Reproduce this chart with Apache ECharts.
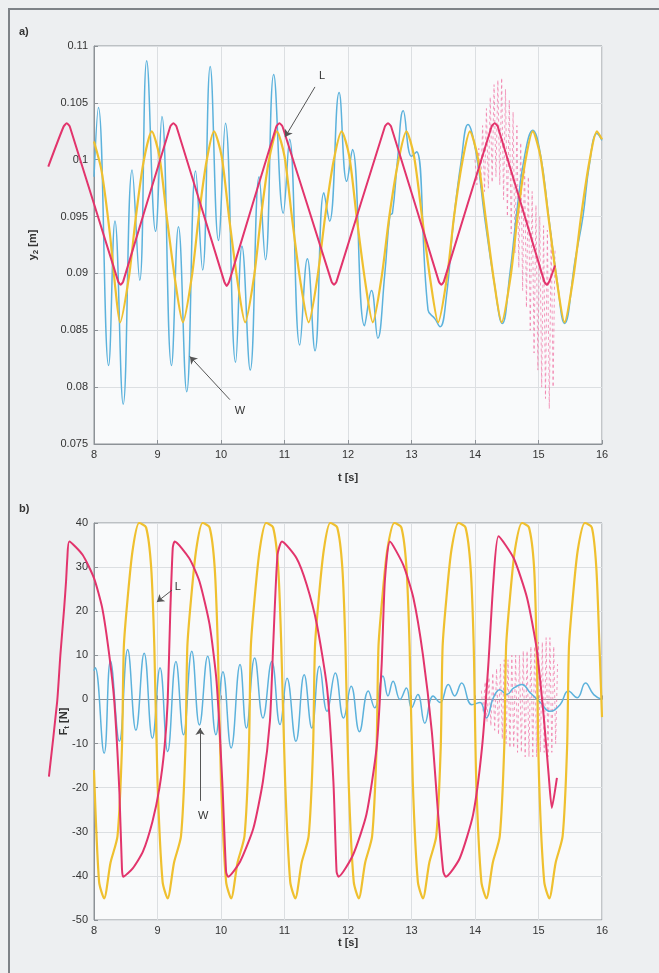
<!DOCTYPE html>
<html>
<head>
<meta charset="utf-8">
<script src="https://cdn.jsdelivr.net/npm/echarts@6/dist/echarts.min.js"></script>
<style>
html,body{margin:0;padding:0;background:#edeff1;}
#c{width:659px;height:973px;}
</style>
</head>
<body>
<div id="c"></div>
<script>
// ---- axis ranges ----
const tRange = [8, 16];
const tRangeWide = [7, 16];   // the R curves start before t = 8 s
const yTopRange = [0.075, 0.11];
const fRange = [-50, 40];

// ---- panel a) displacement y2 [m] vs t [s] ----
const yL = [[8.00,0.1016],[8.12,0.0990],[8.25,0.0935],[8.34,0.0885],[8.41,0.0857],
  [8.55,0.0897],[8.66,0.0950],[8.78,0.0998],[8.91,0.1025],
  [9.03,0.1003],[9.15,0.0948],[9.28,0.0893],[9.40,0.0857],
  [9.54,0.0897],[9.65,0.0950],[9.77,0.0998],[9.89,0.1025],
  [10.01,0.1003],[10.13,0.0948],[10.26,0.0893],[10.38,0.0857],
  [10.52,0.0897],[10.63,0.0950],[10.75,0.0998],[10.88,0.1025],
  [11.00,0.1003],[11.12,0.0948],[11.25,0.0893],[11.38,0.0857],
  [11.52,0.0897],[11.64,0.0950],[11.77,0.0998],[11.90,0.1025],
  [12.02,0.1003],[12.14,0.0948],[12.27,0.0893],[12.39,0.0857],
  [12.53,0.0897],[12.65,0.0950],[12.79,0.0998],[12.92,0.1025],
  [13.04,0.1003],[13.17,0.0948],[13.30,0.0893],[13.42,0.0857],
  [13.56,0.0897],[13.67,0.0950],[13.80,0.0998],[13.92,0.1025],
  [14.04,0.1003],[14.17,0.0948],[14.30,0.0893],[14.42,0.0857],
  [14.56,0.0897],[14.67,0.0950],[14.79,0.0998],[14.91,0.1025],
  [15.03,0.1003],[15.16,0.0948],[15.29,0.0893],[15.41,0.0857],
  [15.55,0.0897],[15.67,0.0950],[15.80,0.0998],[15.92,0.1025],[16.00,0.1018]];

const yW = [[8.00,0.0985],[8.07,0.1046],[8.23,0.0819],[8.33,0.0946],[8.46,0.0785],[8.60,0.0991],
  [8.72,0.0894],[8.83,0.1087],[8.97,0.0937],[9.07,0.1038],[9.22,0.0819],[9.33,0.0941],
  [9.46,0.0796],[9.60,0.0990],[9.71,0.0903],[9.83,0.1082],[9.96,0.0929],[10.07,0.1032],
  [10.23,0.0822],[10.33,0.0924],[10.46,0.0815],[10.60,0.0985],[10.70,0.0912],[10.83,0.1075],
  [10.98,0.0953],[11.08,0.1018],[11.24,0.0837],[11.36,0.0913],[11.48,0.0832],[11.62,0.0971],
  [11.71,0.0946],[11.86,0.1059],[11.98,0.0981],[12.07,0.1009],[12.26,0.0854],[12.37,0.0885],
  [12.47,0.0843],[12.58,0.0900],[12.66,0.0951],[12.70,0.0953],[12.78,0.1000],[12.87,0.1043],
  [13.00,0.1003],[13.08,0.1007],[13.26,0.0868],[13.37,0.0860],[13.45,0.0853],
  [13.55,0.0880],[13.66,0.0945],[13.78,0.0998],[13.89,0.1031],[14.02,0.1005],[14.15,0.0950],
  [14.30,0.0893],[14.43,0.0856],[14.55,0.0900],[14.66,0.0955],[14.78,0.1003],[14.91,0.1026],
  [15.03,0.1005],[15.16,0.0950],[15.29,0.0895],[15.41,0.0856],[15.58,0.0913],[15.70,0.0950],
  [15.80,0.0995],[15.92,0.1023],[16.00,0.1017]];

const yR = [[7.28,0.0994],[7.52,0.1029],[7.57,0.1032],[7.62,0.1029],[8.38,0.0893],[8.42,0.0890],[8.46,0.0893],
  [9.20,0.1029],[9.25,0.1032],[9.30,0.1029],[10.05,0.0893],[10.09,0.0889],[10.13,0.0893],
  [10.87,0.1029],[10.92,0.1032],[10.97,0.1029],[11.74,0.0893],[11.78,0.0890],[11.82,0.0893],
  [12.58,0.1029],[12.63,0.1032],[12.68,0.1029],[13.43,0.0893],[13.47,0.0890],[13.51,0.0893],
  [14.26,0.1029],[14.31,0.1032],[14.36,0.1029],[15.09,0.0893],[15.13,0.0890],[15.17,0.0893],[15.26,0.0907]];

const yRu = [[14.00,0.1000],[14.03,0.0978],[14.06,0.1010],[14.09,0.0975],[14.12,0.1030],[14.15,0.0972],
  [14.18,0.1045],[14.21,0.0975],[14.24,0.1055],[14.27,0.0980],[14.30,0.1066],[14.33,0.0985],
  [14.36,0.1070],[14.39,0.0978],[14.42,0.1072],[14.45,0.0965],[14.48,0.1062],[14.51,0.0950],
  [14.54,0.1052],[14.57,0.0935],[14.60,0.1042],[14.63,0.0918],[14.66,0.1030],[14.69,0.0905],
  [14.72,0.1015],[14.75,0.0885],[14.78,0.1000],[14.81,0.0870],[14.84,0.0985],[14.87,0.0850],
  [14.90,0.0972],[14.93,0.0830],[14.96,0.0960],[14.99,0.0815],[15.02,0.0950],[15.05,0.0800],
  [15.08,0.0942],[15.11,0.0790],[15.14,0.0938],[15.17,0.0781],[15.20,0.0935],[15.23,0.0800],[15.26,0.0920]];

// ---- panel b) force F_t [N] vs t [s] ----
const fL = [[8.00,-16],[8.08,-41.3],[8.16,-45.1],
  [8.26,-37],[8.37,-31],[8.44,-11],[8.47,12],[8.53,23],[8.61,34],[8.71,40],[8.82,39],[8.90,30],[8.95,12],[9.00,-18.6],[9.08,-41.3],[9.16,-45.1],
  [9.26,-37],[9.37,-31],[9.44,-11],[9.47,12],[9.53,23],[9.61,34],[9.71,40],[9.82,39],[9.90,30],[9.95,12],[10.00,-18.6],[10.08,-41.3],[10.16,-45.1],
  [10.26,-37],[10.37,-31],[10.44,-11],[10.47,12],[10.53,23],[10.61,34],[10.71,40],[10.82,39],[10.90,30],[10.95,12],[11.01,-18.6],[11.09,-41.3],[11.17,-45.1],
  [11.27,-37],[11.38,-31],[11.45,-11],[11.48,12],[11.54,23],[11.62,34],[11.72,40],[11.83,39],[11.91,30],[11.96,12],[12.01,-18.6],[12.09,-41.3],[12.17,-45.1],
  [12.27,-37],[12.38,-31],[12.45,-11],[12.48,12],[12.54,23],[12.62,34],[12.73,40],[12.84,39],[12.92,30],[12.97,12],[13.02,-18.6],[13.10,-41.3],[13.18,-45.1],
  [13.28,-37],[13.39,-31],[13.46,-11],[13.49,12],[13.55,23],[13.63,34],[13.74,40],[13.85,39],[13.93,30],[13.98,12],[14.02,-18.6],[14.10,-41.3],[14.18,-45.1],
  [14.28,-37],[14.39,-31],[14.46,-11],[14.49,12],[14.55,23],[14.63,34],[14.74,40],[14.85,39],[14.93,30],[14.97,12],[15.01,-18.6],[15.09,-41.3],[15.17,-45.1],
  [15.27,-37],[15.38,-31],[15.45,-11],[15.48,12],[15.54,23],[15.62,34],[15.73,40],[15.84,39],[15.91,30],[15.96,12],[16.00,-4]];

const fW = [[8.00,6.5],[8.02,7.2],[8.16,-12.2],[8.26,8.7],[8.40,-9.5],[8.53,11.3],[8.66,-7],[8.79,10.5],
  [8.92,-8.8],[9.04,7.2],[9.16,-11.8],[9.29,8.6],[9.41,-8],[9.54,10.9],[9.66,-5.8],[9.79,9.8],
  [9.92,-8],[10.03,6.3],[10.16,-11],[10.30,7.9],[10.40,-6.5],[10.53,9.4],[10.66,-4.2],[10.80,8.6],
  [10.93,-5.7],[11.04,4.8],[11.18,-9.5],[11.31,5.6],[11.43,-6.5],[11.55,7.5],[11.67,-2.7],[11.80,6],
  [11.93,-4.2],[12.05,3],[12.18,-7.3],[12.32,1.9],[12.42,-1.9],[12.55,5.3],[12.63,0.8],[12.71,4.1],
  [12.82,0],[12.92,2.6],[13.00,-1.9],[13.10,1.1],[13.21,-5.4],[13.34,0.8],[13.45,-0.7],[13.58,3.4],
  [13.68,0.8],[13.79,3.7],[13.95,-1.2],[14.08,-0.7],[14.18,-4.2],[14.29,0.4],[14.39,2.2],[14.50,1.1],
  [14.61,2.6],[14.74,3.4],[14.87,1.5],[15.03,-0.7],[15.18,-2.7],[15.34,-1.2],[15.47,1.9],[15.61,0.4],
  [15.74,3.7],[15.87,1.1],[16.00,0]];

const fR = [[7.29,-17.5],[7.42,-0.5],[7.47,10],[7.53,20.7],[7.56,26.8],[7.58,32],[7.61,35.8],[7.82,32.8],[8.00,27.5],[8.13,20.7],
  [8.24,10.1],[8.32,-0.5],[8.40,-21],[8.44,-38.3],[8.46,-40.2],[8.61,-38.3],[8.77,-34.5],[8.92,-27.7],
  [9.03,-20.1],[9.11,-11],[9.16,-0.5],[9.20,19.2],[9.24,34.3],[9.27,35.8],[9.50,32],[9.66,26.8],
  [9.82,17],[9.93,4.1],[10.02,-18.6],[10.08,-39],[10.11,-40.2],[10.30,-36.8],[10.51,-29.2],[10.66,-18.6],
  [10.77,-5],[10.82,11.6],[10.89,32.8],[10.96,35.8],[11.19,32],[11.35,26],[11.51,17],[11.67,2.6],
  [11.77,-18.6],[11.82,-39],[11.85,-40.2],[12.08,-35.2],[12.29,-26.1],[12.45,-11],[12.53,7.9],[12.58,26.8],
  [12.66,35.8],[12.87,30.5],[13.03,23],[13.18,10.1],[13.32,-7.3],[13.42,-26.1],[13.50,-39],[13.54,-40.2],
  [13.76,-36],[13.97,-26.1],[14.11,-11],[14.21,7.9],[14.29,26.8],[14.37,37],[14.61,32],[14.82,23],
  [14.97,11.6],[15.08,-3.5],[15.16,-17.1],[15.21,-24.6],[15.29,-17.8]];

const fRu = [[14.10,2],[14.13,-3],[14.16,4],[14.19,-5],[14.22,5],[14.25,-6],[14.28,6],[14.31,-7],
  [14.34,7],[14.37,-8],[14.40,8],[14.43,-9],[14.46,9],[14.49,-10],[14.52,9],[14.55,-11],[14.58,10],
  [14.61,-11],[14.64,10],[14.67,-12],[14.70,10],[14.73,-12],[14.76,11],[14.79,-13],[14.82,11],
  [14.85,-13],[14.88,12],[14.91,-13],[14.94,12],[14.97,-13],[15.00,13],[15.03,-12],[15.06,13],
  [15.09,-12],[15.12,14],[15.15,-13],[15.18,14],[15.21,-12],[15.24,12],[15.27,-10],[15.30,8]];

// ---- annotation arrows: tail, head, text position, text ----
const notesTop = [
  {from:[11.48,0.1064], to:[11.01,0.1020], at:[11.59,0.1074], text:'L'},
  {from:[10.14,0.0789], to:[9.51,0.0827], at:[10.30,0.0779], text:'W'}
];
const notesBottom = [
  {from:[9.23,24.8], to:[8.99,22.1], at:[9.32,25.6], text:'L'},
  {from:[9.67,-23.0], to:[9.67,-6.5], at:[9.72,-26.5], text:'W'}
];

const C_RED = '#e2346c', C_YEL = '#efc02f', C_BLUE = '#5cb2dc', C_PINK = '#f07aa8';
const AX = '#8d9297', GRIDC = '#dcdfe2', TXT = '#333';
const FONT = 'Liberation Sans, Arial, sans-serif';

// plot box geometry
const PL = 94, PR = 57, PW = 659 - PL - PR;
const pxPerSec = PW / (tRange[1] - tRange[0]);
const wideLeft = PL - pxPerSec * (tRange[0] - tRangeWide[0]);
const TOP_A = 46, H_A = 398, TOP_B = 523, H_B = 397;

function xAxisCfg(gi, gap) {
  return {
    gridIndex: gi, type: 'value', min: tRange[0], max: tRange[1], interval: 1,
    name: 't [s]', nameLocation: 'middle', nameGap: gap, nameMoveOverlap: false,
    nameTextStyle: {color: TXT, fontSize: 11, fontWeight: 'bold', fontFamily: FONT},
    axisLine: {show: true, lineStyle: {color: AX}},
    axisTick: {show: true, inside: true, length: 4, lineStyle: {color: AX}},
    axisLabel: {color: TXT, fontSize: 11, margin: 5, fontFamily: FONT},
    splitLine: {show: true, lineStyle: {color: GRIDC, width: 1}}
  };
}
function hiddenX(gi) {
  return {gridIndex: gi, type: 'value', min: tRangeWide[0], max: tRangeWide[1], show: false,
    splitLine: {show: false}};
}
function hiddenY(gi, range) {
  return {gridIndex: gi, type: 'value', min: range[0], max: range[1], show: false,
    splitLine: {show: false}};
}

function notes(list) {
  return {
    markLine: {
      silent: true, symbol: ['none', 'arrow'], symbolSize: 7, animation: false,
      lineStyle: {color: '#555', width: 1, type: 'solid'},
      label: {show: false},
      data: list.map(n => [{coord: n.from}, {coord: n.to}])
    },
    markPoint: {
      silent: true, symbol: 'circle', symbolSize: 0, animation: false,
      label: {show: true, color: TXT, fontSize: 11, fontFamily: FONT, formatter: p => p.name},
      data: list.map(n => ({name: n.text, coord: n.at}))
    }
  };
}

const nameSub = {s: {fontSize: 8, fontWeight: 'bold', padding: [7, 0, 0, 0], fontFamily: FONT}};

const chart = echarts.init(document.getElementById('c'), null, {renderer: 'canvas'});
chart.setOption({
  animation: false,
  backgroundColor: '#edeff1',
  textStyle: {fontFamily: FONT},
  graphic: [
    {type: 'polyline', silent: true, shape: {points: [[9, 973], [9, 9], [659, 9]]},
     style: {stroke: '#7d8287', lineWidth: 2, fill: null}},
    {type: 'text', left: 19, top: 26, style: {text: 'a)', fill: TXT, font: 'bold 11px ' + FONT}},
    {type: 'text', left: 19, top: 503, style: {text: 'b)', fill: TXT, font: 'bold 11px ' + FONT}}
  ],
  grid: [
    {left: PL, right: PR, top: TOP_A, height: H_A, show: true, backgroundColor: '#f9fafb', borderColor: AX, borderWidth: 1},
    {left: PL, right: PR, top: TOP_B, height: H_B, show: true, backgroundColor: '#f9fafb', borderColor: AX, borderWidth: 1},
    // same scales, extended to the left so the R curves can start before t = 8 s
    {left: wideLeft, right: PR, top: TOP_A, height: H_A, show: false},
    {left: wideLeft, right: PR, top: TOP_B, height: H_B, show: false}
  ],
  xAxis: [xAxisCfg(0, 28), xAxisCfg(1, 17), hiddenX(2), hiddenX(3)],
  yAxis: [
    {gridIndex: 0, type: 'value', min: yTopRange[0], max: yTopRange[1], interval: 0.005,
     name: 'y{s|2} [m]', nameLocation: 'middle', nameGap: 54, nameMoveOverlap: false,
     nameTextStyle: {color: TXT, fontSize: 11, fontWeight: 'bold', fontFamily: FONT, rich: nameSub},
     axisLine: {show: true, lineStyle: {color: AX}},
     axisTick: {show: true, inside: true, length: 4, lineStyle: {color: AX}},
     axisLabel: {color: TXT, fontSize: 11, margin: 6, fontFamily: FONT, formatter: v => String(+v.toFixed(3))},
     splitLine: {show: true, lineStyle: {color: GRIDC, width: 1}}},
    {gridIndex: 1, type: 'value', min: fRange[0], max: fRange[1], interval: 10,
     name: 'F{s|t} [N]', nameLocation: 'middle', nameGap: 23, nameMoveOverlap: false,
     nameTextStyle: {color: TXT, fontSize: 11, fontWeight: 'bold', fontFamily: FONT, rich: nameSub},
     axisLine: {show: true, lineStyle: {color: AX}},
     axisTick: {show: true, inside: true, length: 4, lineStyle: {color: AX}},
     axisLabel: {color: TXT, fontSize: 11, margin: 6, fontFamily: FONT},
     splitLine: {show: true, lineStyle: {color: GRIDC, width: 1}}},
    hiddenY(2, yTopRange),
    hiddenY(3, fRange)
  ],
  series: [
    {name: 'R unstable', type: 'line', xAxisIndex: 0, yAxisIndex: 0, data: yRu, showSymbol: false,
     lineStyle: {color: C_PINK, width: 1, type: [3, 3], opacity: 0.75}},
    Object.assign({name: 'W', type: 'line', xAxisIndex: 0, yAxisIndex: 0, data: yW, showSymbol: false, smooth: 0.45,
     lineStyle: {color: C_BLUE, width: 1.5}}, notes(notesTop)),
    {name: 'L', type: 'line', xAxisIndex: 0, yAxisIndex: 0, data: yL, showSymbol: false, smooth: 0.25,
     lineStyle: {color: C_YEL, width: 2.2}},
    {name: 'R', type: 'line', xAxisIndex: 2, yAxisIndex: 2, data: yR, showSymbol: false, smooth: 0.2,
     lineStyle: {color: C_RED, width: 2}},

    {name: 'R unstable', type: 'line', xAxisIndex: 1, yAxisIndex: 1, data: fRu, showSymbol: false,
     lineStyle: {color: C_PINK, width: 1, type: [3, 3], opacity: 0.75}},
    Object.assign({name: 'W', type: 'line', xAxisIndex: 1, yAxisIndex: 1, data: fW, showSymbol: false, smooth: 0.45,
     lineStyle: {color: C_BLUE, width: 1.5}}, notes(notesBottom)),
    {name: 'L', type: 'line', xAxisIndex: 1, yAxisIndex: 1, data: fL, showSymbol: false, smooth: 0.25,
     lineStyle: {color: C_YEL, width: 2.2}},
    {name: 'R', type: 'line', xAxisIndex: 3, yAxisIndex: 3, data: fR, showSymbol: false, smooth: 0.2,
     lineStyle: {color: C_RED, width: 2}}
  ]
});
</script>
</body>
</html>
